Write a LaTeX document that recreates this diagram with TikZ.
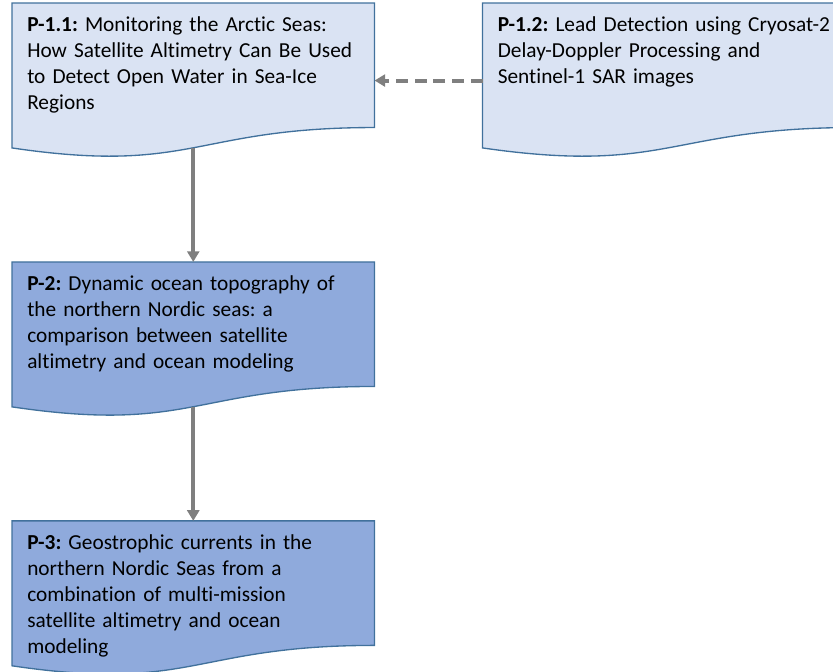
\documentclass[tikz,border=0pt]{standalone}
\usepackage{fontspec}
\setmainfont{Carlito}[Ligatures={NoCommon, NoRare, NoDiscretionary}]
\usepackage{xcolor}
\usepackage{tikz}
\usetikzlibrary{arrows.meta, positioning, backgrounds}

\definecolor{paperlight}{HTML}{DAE3F3}
\definecolor{paperdark}{HTML}{8FAADC}
\definecolor{paperline}{HTML}{41719C}
\definecolor{linkgray}{HTML}{7F7F7F}

\frenchspacing

\begin{document}
\begin{tikzpicture}[
    node distance=85.5pt and 81pt,
    every node/.style={
        font=\fontsize{16}{19.5}\selectfont,
        align=left
    },
    paper/.style={
        rectangle,
        text width=249pt,
        inner xsep=11.25pt,
        inner ysep=7.5pt,
        text height=13.5pt,
        text depth=79.8pt
    },
    line/.style={
        -{Triangle[length=8pt,width=9pt]},
        line width=3pt,
        draw=linkgray
    },
    dashline/.style={
        line,
        dash pattern=on 9pt off 5pt
    }
]

\clip (0,0) rectangle (624.75pt,-504pt);

\node[paper, anchor=north west] (p11) at (9pt,-2.25pt)
    {\textbf{P-1.1:} Monitoring the Arctic Seas:\\
    How Satellite Altimetry Can Be Used\\
    to Detect Open Water in Sea-Ice\\
    Regions};

% right edge runs off the page, as in the source figure
\node[paper, text width=256pt, right=of p11.north east, anchor=north west] (p12)
    {\textbf{P-1.2:} Lead Detection using \mbox{Cryosat-2}\\
    Delay-Doppler Processing and\\
    Sentinel-1 SAR images};

\node[paper, below=of p11] (p2)
    {\textbf{P-2:} Dynamic ocean topography of\\
    the northern Nordic seas: a\\
    comparison between satellite\\
    altimetry and ocean modeling};

\node[paper, below=of p2] (p3)
    {\textbf{P-3:} Geostrophic currents in the\\
    northern Nordic Seas from a\\
    combination of multi-mission\\
    satellite altimetry and ocean\\
    modeling};

% document shapes behind the texts
\begin{scope}[on background layer]
\foreach \n/\c in {p11/paperlight, p12/paperlight, p2/paperdark, p3/paperdark}
    \draw[fill=\c, draw=paperline, line width=1pt]
        (\n.north west) -- (\n.north east) -- ([yshift=15.3pt]\n.south east)
        .. controls ([yshift=15.3pt]\n.south) and ([yshift=-20.1pt]\n.south) .. (\n.south west)
        -- cycle;
\end{scope}

\draw[dashline] ([yshift=-3.8pt]p12.west) -- ([yshift=-3.8pt]p11.east);
\draw[line] (p11) -- (p2);
\draw[line] (p2) -- (p3);

\end{tikzpicture}
\end{document}
